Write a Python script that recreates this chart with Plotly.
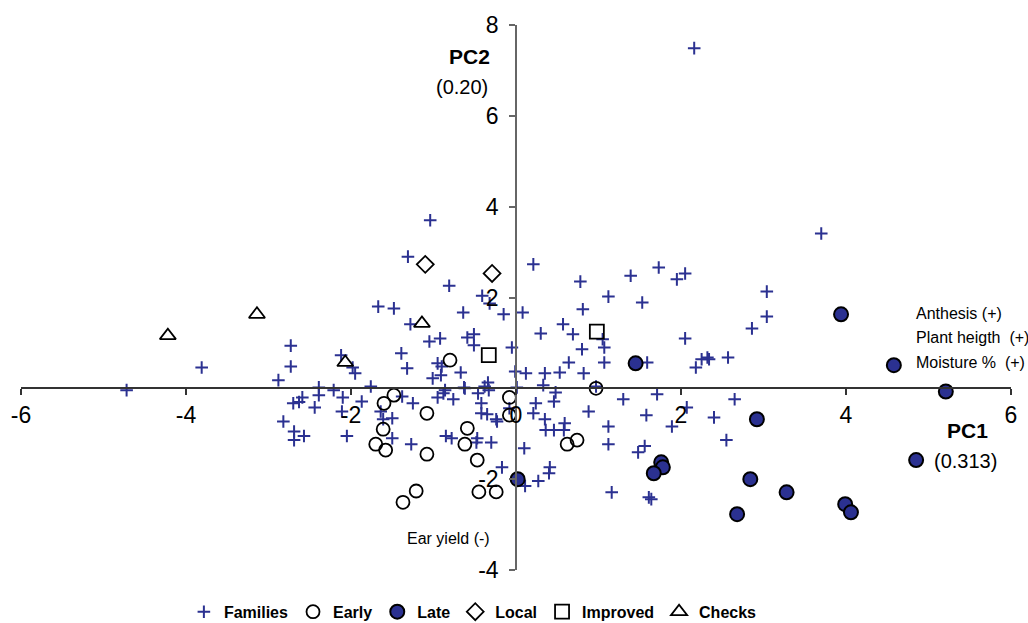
import plotly.graph_objects as go

# ---------------- data (PC1, PC2 scores) ----------------
families_x = [-4.72, -3.81, -2.73, -2.73, -2.88, -2.39, -2.21, -2.39, -2.59, -2.63,
              -2.70, -2.44, -2.82, -2.69, -2.69, -2.57, -2.10, -2.11, -2.05, -2.12,
              -1.98, -1.95, -1.87, -1.76, -1.64, -1.61, -1.50, -1.50, -1.27, -1.38,
              -1.25, -1.67, -1.48, -1.31, -1.39, -1.32, -1.28, -1.05, -0.92, -0.95,
              -0.90, -0.91, -1.01, -0.67, -0.81, -0.64, -0.59, -0.51, -0.51, -0.41,
              -0.32, -0.15, -0.05, -0.01, -0.34, -0.38, -0.62, -0.86, -0.88, -0.95,
              -0.76, -0.46, -0.42, -0.42, -0.35, -0.24, -0.23, -0.85, -0.78, -0.47,
              -0.48, -0.30, -0.17, 0.01, -1.04, 0.08, 0.21, 0.78, 0.81, 0.30,
              0.57, 0.69, 0.80, 0.64, 0.12, 0.35, 0.53, 0.82, 0.33, 1.39,
              1.73, 1.95, 2.05, 1.12, 1.53, 1.05, 1.07, 1.07, 1.59, 2.05,
              2.25, 2.32, 2.34, 2.18, 2.57, 0.97, 3.70, 3.04, 3.04, 2.86,
              2.16, 0.48, 0.46, 0.24, 0.21, 0.35, 0.36, 0.46, 0.58, 0.59,
              0.88, 1.30, 1.71, 1.58, 1.12, 1.12, 1.56, 1.48, 1.89, 2.07,
              2.40, 2.55, 2.65, 0.10, 0.41, 0.40, 0.27, 0.11, 1.16, 1.61,
              1.64, -0.08, -0.63, -0.33]
families_y = [-0.04, 0.46, 0.94, 0.48, 0.18, 0.02, -0.04, -0.15, -0.20, -0.30,
              -0.33, -0.42, -0.73, -0.95, -1.14, -1.05, -0.20, -0.51, -1.05, 0.73,
              0.46, 0.33, -0.29, 0.04, -0.51, -0.68, -0.66, -1.10, -1.23, -0.18,
              -0.33, 1.80, 1.76, 2.90, 0.77, 0.44, 1.41, 1.03, 1.10, 0.55,
              0.48, 0.29, 0.22, 0.35, 2.26, 1.67, 1.12, 1.19, 0.95, 2.04,
              1.87, 1.63, 0.90, 0.37, 0.13, 0.04, 0.00, -0.04, -0.11, -0.20,
              -0.24, -0.11, -0.33, -0.55, -0.57, -0.68, -0.73, -1.05, -1.10, -1.10,
              -1.19, -1.19, -1.74, 0.02, 3.70, 1.67, 2.73, 2.35, 1.74, 1.21,
              1.41, 1.19, 0.86, 0.57, 0.33, 0.33, 0.35, 0.33, 0.07, 2.48,
              2.66, 2.40, 2.53, 2.02, 1.89, 1.08, 0.90, 0.57, 0.57, 1.10,
              0.64, 0.68, 0.64, 0.46, 0.68, 0.04, 3.41, 2.13, 1.58, 1.32,
              7.49, -0.09, -0.29, -0.33, -0.55, -0.68, -0.92, -0.92, -0.92, -0.77,
              -0.51, -0.24, -0.13, -0.59, -0.84, -1.23, -1.27, -1.41, -0.84, -0.42,
              -0.64, -1.14, -0.24, -1.32, -1.74, -1.87, -2.04, -2.15, -2.29, -2.40,
              -2.44, -0.44, 0.02, -0.04]

early_x = [-1.48, -1.60, -1.08, -0.80, -1.61, -0.59, -1.70, -1.58, -1.08, -0.62,
           -0.47, -1.37, -1.21, -0.45, -0.24, -0.08, -0.08, 0.62, 0.74, 0.97]
early_y = [-0.15, -0.33, -0.55, 0.62, -0.90, -0.88, -1.23, -1.36, -1.45, -1.23,
           -1.58, -2.51, -2.26, -2.28, -2.28, -0.20, -0.59, -1.23, -1.14, 0.00]

late_x = [1.45, 3.94, 4.58, 5.21, 2.92, 1.76, 1.78, 1.67, 2.84, 3.28,
          3.99, 4.06, 2.68, 4.85, 0.02]
late_y = [0.55, 1.63, 0.51, -0.07, -0.68, -1.63, -1.74, -1.87, -2.00, -2.29,
          -2.55, -2.73, -2.77, -1.58, -2.00]

local_x = [-1.10, -0.29]
local_y = [2.73, 2.53]

improved_x = [-0.33, 0.98]
improved_y = [0.73, 1.25]

checks_x = [-4.22, -3.14, -1.14, -2.07]
checks_y = [1.16, 1.63, 1.43, 0.57]

x_ticks = [-6, -4, -2, 0, 2, 4, 6]
y_ticks = [-4, -2, 2, 4, 6, 8]

# ---------------- styling ----------------
NAVY = "#2B3191"
FONT = "Liberation Sans, Arial, sans-serif"

fig = go.Figure()

fig.add_trace(go.Scatter(
    x=families_x, y=families_y, mode="markers", name="Families",
    marker=dict(symbol="cross-thin", size=9, color=NAVY,
                line=dict(width=2, color=NAVY))))
fig.add_trace(go.Scatter(
    x=early_x, y=early_y, mode="markers", name="Early",
    marker=dict(symbol="circle-open", size=13, color="black",
                line=dict(width=1.8, color="black"))))
fig.add_trace(go.Scatter(
    x=late_x, y=late_y, mode="markers", name="Late",
    marker=dict(symbol="circle", size=14, color=NAVY,
                line=dict(width=2, color="black"))))
fig.add_trace(go.Scatter(
    x=local_x, y=local_y, mode="markers", name="Local",
    marker=dict(symbol="diamond-open", size=13, color="black",
                line=dict(width=1.8, color="black"))))
fig.add_trace(go.Scatter(
    x=improved_x, y=improved_y, mode="markers", name="Improved",
    marker=dict(symbol="square-open", size=14, color="black",
                line=dict(width=1.8, color="black"))))
fig.add_trace(go.Scatter(
    x=checks_x, y=checks_y, mode="markers", name="Checks",
    marker=dict(symbol="triangle-up-open", size=14, color="black",
                line=dict(width=1.8, color="black"))))

annotations = [
    dict(x=-0.56, y=7.31, text="<b>PC2</b>", font=dict(size=21)),
    dict(x=-0.65, y=6.63, text="(0.20)", font=dict(size=20)),
    dict(x=5.47, y=-0.93, text="<b>PC1</b>", font=dict(size=21)),
    dict(x=5.45, y=-1.59, text="(0.313)", font=dict(size=20)),
    dict(x=4.82, y=1.65, text="Anthesis (+)", font=dict(size=16), xanchor="left"),
    dict(x=4.82, y=1.12, text="Plant heigth \u00a0(+)", font=dict(size=16), xanchor="left"),
    dict(x=4.82, y=0.57, text="Moisture % \u00a0(+)", font=dict(size=16), xanchor="left"),
    dict(x=-1.35, y=-3.30, text="Ear yield (-)", font=dict(size=16), xanchor="left"),
]
for a in annotations:
    a.setdefault("xanchor", "center")
    a.update(xref="x", yref="y", showarrow=False, yanchor="middle")
    a["font"].update(family=FONT, color="black")

fig.update_layout(
    width=1028, height=623,
    margin=dict(l=21, r=17, t=25, b=53, autoexpand=False),
    paper_bgcolor="white", plot_bgcolor="white",
    font=dict(family=FONT, color="black"),
    showlegend=True,
    legend=dict(orientation="h", xref="container", yref="container",
                x=0.46, y=0.018, xanchor="center", yanchor="middle",
                font=dict(size=16, family=FONT, color="black", weight="bold"),
                itemwidth=30, tracegroupgap=0, bgcolor="rgba(0,0,0,0)"),
    annotations=annotations,
    xaxis=dict(range=[-6, 6], anchor="free", position=1/3,
               showgrid=False, zeroline=False,
               showline=True, linecolor="#333", linewidth=1.5,
               ticks="outside", ticklen=6, tickwidth=1.5, tickcolor="#333",
               tickvals=x_ticks, ticktext=[str(v) for v in x_ticks],
               tickfont=dict(size=23, family=FONT, color="black")),
    yaxis=dict(range=[-4, 8], anchor="free", position=0.5,
               showgrid=False, zeroline=False,
               showline=True, linecolor="#666", linewidth=1.5,
               ticks="outside", ticklen=6, tickwidth=1.5, tickcolor="#666",
               tickvals=y_ticks, ticktext=[str(v) for v in y_ticks],
               ticklabelstandoff=6,
               tickfont=dict(size=23, family=FONT, color="black")),
)

fig.write_html("out.html")
